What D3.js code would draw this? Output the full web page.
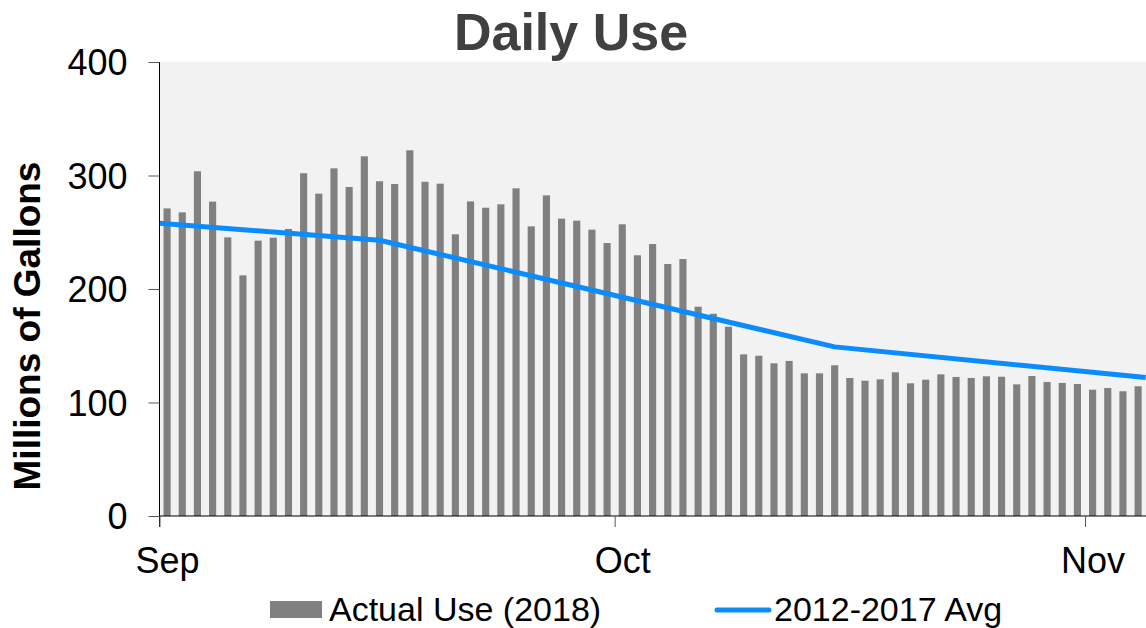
<!DOCTYPE html>
<html>
<head>
<meta charset="utf-8">
<script src="https://cdn.jsdelivr.net/npm/d3@7"></script>
<style>
  html, body { margin: 0; padding: 0; background: #fff; }
  svg { display: block; font-family: "Liberation Sans", Arial, sans-serif; }
</style>
</head>
<body>
<svg id="chart" width="1146" height="628"></svg>
<script>
// ---- Data ----
const startDate = "2018-09-01";
const endDate = "2018-11-05"; // exclusive
const actualUse = [
  271, 267.5, 303.7, 277, 245.5, 212, 242.6, 245.2, 252.9, 302,
  284, 306.3, 289.9, 316.9, 294.9, 292.5, 322.2, 294.5, 292.8, 248.2,
  277.2, 271.6, 274.6, 288.7, 255.2, 282.5, 262, 260.2, 252.3, 240.5,
  257, 229.7, 239.6, 222, 226.4, 184.4, 178.2, 166.8, 142.4, 141.2,
  134.5, 136.6, 125.7, 125.7, 132.8, 121.6, 119.2, 120.4, 126.6, 116.9,
  120.1, 124.8, 122.5, 121.6, 123.1, 122.7, 116, 123.3, 118.1, 117.2,
  116.3, 111.3, 112.8, 109.9, 114.3
];
const avgDates = ["2018-09-01T00:00Z", "2018-09-15T12:00Z", "2018-10-15T12:00Z", "2018-11-05T00:00Z"];
const avgValues = [258, 243, 149, 122];
const yTicks = [0, 100, 200, 300, 400];
const monthTicks = ["2018-09-01", "2018-10-01", "2018-11-01"];
const monthLabels = ["Sep", "Oct", "Nov"];
const titleText = "Daily Use";
const yLabelText = "Millions of Gallons";
const legendLabels = ["Actual Use (2018)", "2012-2017 Avg"];

(function () {
// ---- Layout ----
const svg = d3.select("#chart");
const pLeft = 159.5, pRight = 1145.7, pTop = 62, pBottom = 516;
const parse = s => new Date(s.length === 10 ? s + "T00:00Z" : s);
const days = d3.utcDay.range(parse(startDate), parse(endDate));

const x = d3.scaleUtc().domain([parse(startDate), parse(endDate)]).range([pLeft, pRight]);
const y = d3.scaleLinear().domain([0, 400]).range([pBottom, pTop]);
const dayW = x(d3.utcDay.offset(days[0], 1)) - x(days[0]);
const halfDay = d3.utcHour.offset(days[0], 12) - days[0];

// plot background
svg.append("rect")
  .attr("x", pLeft).attr("y", pTop)
  .attr("width", 1146 - pLeft).attr("height", pBottom - pTop)
  .attr("fill", "#f2f2f2");

// bars
const barW = dayW * 0.47;
svg.append("g").selectAll("rect")
  .data(actualUse)
  .join("rect")
  .attr("x", (d, i) => x(new Date(+days[i] + halfDay)) - barW / 2)
  .attr("y", d => y(d))
  .attr("width", barW)
  .attr("height", d => y(0) - y(d))
  .attr("fill", "#808080");

// avg line
const line = d3.line()
  .x(d => x(d[0]))
  .y(d => y(d[1]));
svg.append("path")
  .datum(avgDates.map((d, i) => [parse(d), avgValues[i]]))
  .attr("d", line)
  .attr("fill", "none")
  .attr("stroke", "#0a8cff")
  .attr("stroke-width", 5)
  .attr("stroke-linejoin", "round");

// y axis
const yAxis = svg.append("g")
  .attr("transform", `translate(${pLeft},0)`)
  .call(d3.axisLeft(y).tickValues(yTicks).tickSize(11).tickPadding(21).tickFormat(d3.format("d")));
yAxis.select(".domain").attr("stroke", "#000").attr("d", `M0,${pTop}V${pBottom + 11}`);
yAxis.selectAll(".tick line").attr("stroke", "#595959");
yAxis.selectAll(".tick text")
  .attr("font-size", 36).attr("fill", "#000")
  .attr("font-family", "'Liberation Sans', Arial, sans-serif")
  .attr("dy", "0.36em");

// x axis
const xAxis = svg.append("g")
  .attr("transform", `translate(0,${pBottom})`)
  .call(d3.axisBottom(x).tickValues(monthTicks.map(parse)).tickSize(11).tickPadding(0)
    .tickFormat((d, i) => monthLabels[i]));
xAxis.select(".domain").attr("stroke", "#000").attr("d", `M${pLeft},0H1146`);
xAxis.selectAll(".tick line").attr("stroke", "#595959");
xAxis.selectAll(".tick text")
  .attr("font-size", 36).attr("fill", "#000")
  .attr("font-family", "'Liberation Sans', Arial, sans-serif")
  .attr("x", x(new Date(+parse(startDate) + halfDay)) - x(parse(startDate)))
  .attr("y", 57).attr("dy", 0);

// title
svg.append("text")
  .attr("x", 571).attr("y", 50)
  .attr("text-anchor", "middle")
  .attr("font-size", 52).attr("font-weight", "bold")
  .attr("fill", "#404040")
  .text(titleText);

// y label
svg.append("text")
  .attr("transform", "translate(40,326) rotate(-90)")
  .attr("text-anchor", "middle")
  .attr("font-size", 37).attr("font-weight", "bold")
  .attr("fill", "#000")
  .text(yLabelText);

// legend
const lg = svg.append("g");
lg.append("rect").attr("x", 270).attr("y", 601).attr("width", 52).attr("height", 17).attr("fill", "#808080");
lg.append("text").attr("x", 329).attr("y", 621)
  .attr("font-size", 34).attr("fill", "#000").text(legendLabels[0]);
lg.append("line").attr("x1", 717).attr("x2", 769).attr("y1", 610).attr("y2", 610)
  .attr("stroke", "#0a8cff").attr("stroke-width", 5).attr("stroke-linecap", "round");
lg.append("text").attr("x", 774).attr("y", 621)
  .attr("font-size", 34).attr("fill", "#000").text(legendLabels[1]);
})();
</script>
</body>
</html>
